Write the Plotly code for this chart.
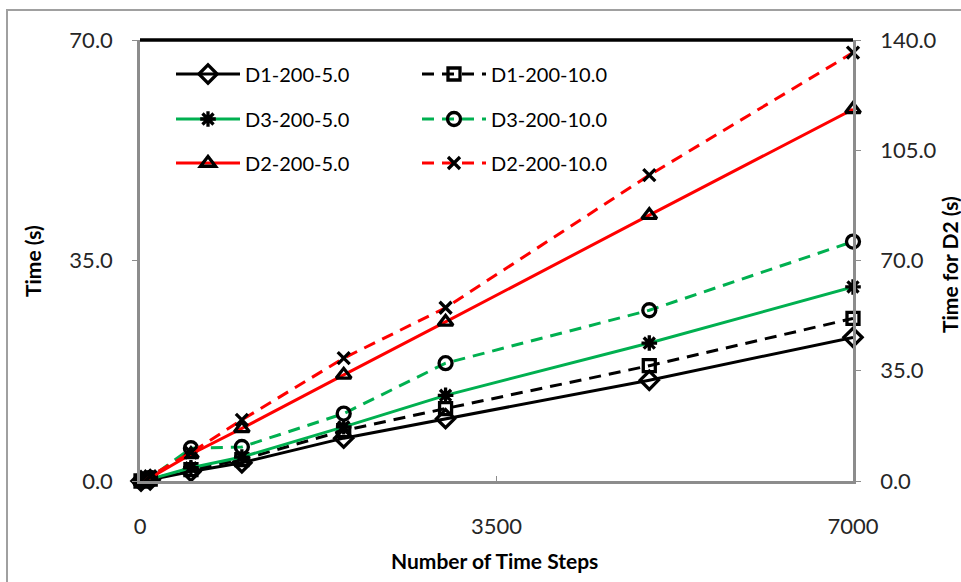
import plotly.graph_objects as go

# Number of time steps simulated
steps = [10, 100, 500, 1000, 2000, 3000, 5000, 7000]

# Run times (s) on the left axis
d1_5 = [0.0, 0.2, 1.5, 2.9, 6.8, 9.9, 16.0, 22.8]
d1_10 = [0.0, 0.3, 1.8, 3.4, 8.0, 11.5, 18.3, 25.8]
d3_5 = [0.0, 0.3, 2.1, 3.8, 8.6, 13.6, 21.9, 30.8]
d3_10 = [0.0, 0.5, 5.2, 5.4, 10.7, 18.7, 27.1, 38.0]

# Run times (s) for D2 on the right axis
d2_5 = [0.0, 1.0, 8.5, 16.7, 33.7, 50.5, 84.4, 118.0]
d2_10 = [0.0, 1.5, 9.0, 19.4, 39.0, 55.0, 97.1, 136.0]

left_ticks = [0, 35, 70]
right_ticks = [0, 35, 70, 105, 140]
x_ticks = [0, 3500, 7000]

BLACK = "#000000"
GREEN = "#00B050"
RED = "#FF0000"
AXIS = "#8c8c8c"
FONT = "Lato"

series = [
    ("D1-200-5.0", d1_5, BLACK, "solid", "diamond-open", 14, "y", "legend"),
    ("D1-200-10.0", d1_10, BLACK, "12px,8px", "square-open", 12, "y", "legend"),
    ("D3-200-5.0", d3_5, GREEN, "solid", "asterisk-open", 13, "y", "legend2"),
    ("D3-200-10.0", d3_10, GREEN, "12px,8px", "circle-open", 13, "y", "legend2"),
    ("D2-200-5.0", d2_5, RED, "solid", "triangle-up-open", 13, "y2", "legend3"),
    ("D2-200-10.0", d2_10, RED, "12px,8px", "x-thin-open", 12, "y2", "legend3"),
]

fig = go.Figure()
for name, vals, color, dash, symbol, size, yax, leg in series:
    fig.add_trace(go.Scatter(
        x=steps, y=vals, name=name, mode="lines+markers",
        yaxis=yax, legend=leg, cliponaxis=False,
        line=dict(color=color, width=3, dash=dash),
        marker=dict(symbol=symbol, size=size, color=BLACK,
                    line=dict(color=BLACK, width=3.3)),
    ))

H = 441.0
W = 713.0


def py(pixel_y):
    return (481 - pixel_y) / H


def px(pixel_x):
    return (pixel_x - 140) / W


legend_common = dict(
    orientation="h", xanchor="left", yanchor="middle",
    x=px(171), bgcolor="rgba(0,0,0,0)",
    font=dict(family=FONT, size=20, color=BLACK),
    itemwidth=64, entrywidth=167, entrywidthmode="pixels",
    itemclick=False, itemdoubleclick=False,
)

axis_common = dict(
    showgrid=False, zeroline=False, showline=True, linecolor=AXIS,
    linewidth=2.5, tickcolor=AXIS, ticklen=5, automargin=False,
)

fig.update_layout(
    width=961, height=582,
    margin=dict(l=140, r=108, t=40, b=101),
    paper_bgcolor="white", plot_bgcolor="white",
    font=dict(family=FONT, size=22, color="#262626"),
    showlegend=True,
    legend=dict(legend_common, y=py(74)),
    legend2=dict(legend_common, y=py(119)),
    legend3=dict(legend_common, y=py(163)),
    xaxis=dict(
        axis_common, range=[0, 7000], tickvals=x_ticks,
        ticktext=[str(v) for v in x_ticks],
        ticks="inside", ticklabelstandoff=24,
    ),
    yaxis=dict(
        axis_common, range=[0, 70], tickvals=left_ticks,
        ticktext=[f"{v:.1f}" for v in left_ticks],
        ticks="outside", ticklabelstandoff=15,
    ),
    yaxis2=dict(
        axis_common, range=[0, 140], tickvals=right_ticks,
        ticktext=[f"{v:.1f}" for v in right_ticks],
        overlaying="y", side="right", anchor="x",
        ticks="outside", ticklabelstandoff=15,
    ),
)

title_font = dict(family=FONT, size=21, color=BLACK)
fig.add_annotation(text="<b>Number of Time Steps</b>", xref="paper", yref="paper",
                   x=px(494), y=py(560), showarrow=False, font=title_font,
                   xanchor="center", yanchor="middle")
fig.add_annotation(text="<b>Time (s)</b>", xref="paper", yref="paper",
                   x=px(32), y=py(261), showarrow=False, font=title_font,
                   textangle=-90, xanchor="center", yanchor="middle")
fig.add_annotation(text="<b>Time for D2 (s)</b>", xref="paper", yref="paper",
                   x=px(949), y=py(265), showarrow=False, font=title_font,
                   textangle=-90, xanchor="center", yanchor="middle")

# Thick black top edge of the plotting area
fig.add_shape(type="line", xref="paper", yref="paper", x0=0, x1=1, y0=1, y1=1,
              line=dict(color=BLACK, width=3.5), layer="above")
# Outer chart frame
fig.add_shape(type="rect", xref="paper", yref="paper",
              x0=px(7), x1=px(975), y0=py(600), y1=py(10),
              line=dict(color="#a0a0a0", width=2), layer="below")

fig.write_html("out.html")
